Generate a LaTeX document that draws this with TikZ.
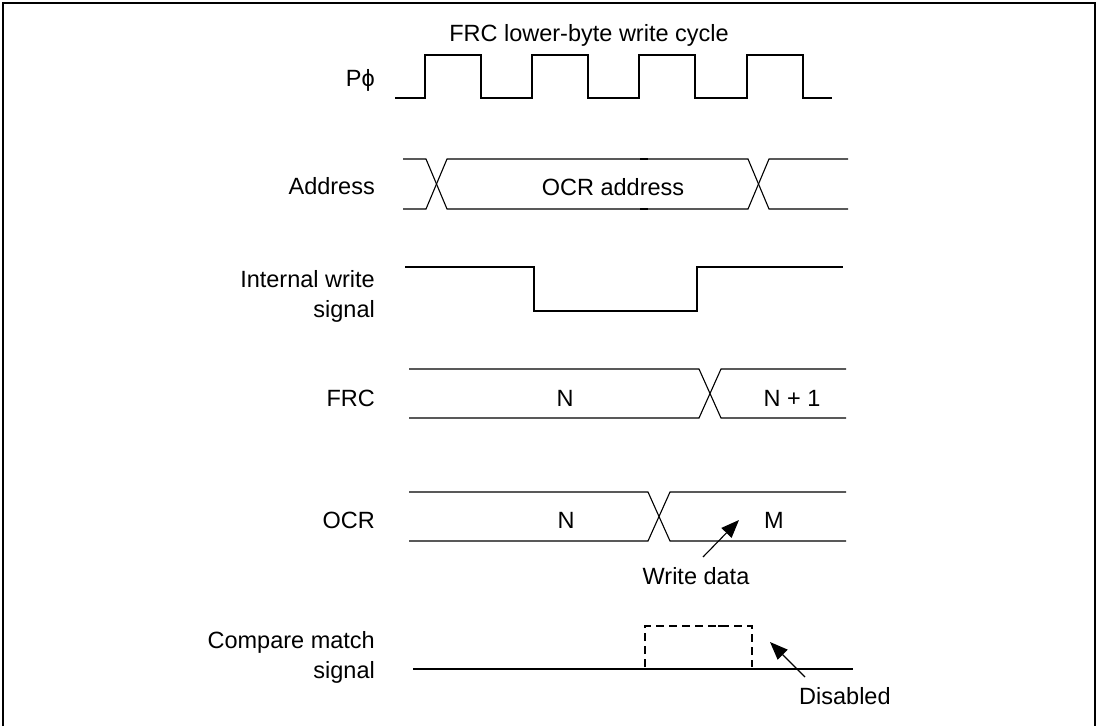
\documentclass[tikz,border=0pt]{standalone}
\usepackage{fontspec}
\setmainfont{Liberation Sans}
\usetikzlibrary{arrows.meta}
\begin{document}
\begin{tikzpicture}[x=1pt,y=-1pt,
  sig/.style={line width=1.1pt, line join=miter},
  frame/.style={line width=1.6pt},
  lbl/.style={font=\fontsize{23.5}{28}\selectfont, inner sep=0pt},
  arr/.style={line width=1.1pt, -{Triangle[length=18pt,width=14pt]}},
  tick/.style={line width=2.6pt},
  dsh/.style={line width=1.1pt, dash pattern=on 8pt off 5pt}]
\useasboundingbox (0,0) rectangle (1099,726);
% frame
\draw[frame] (3,726) -- (3,3) -- (1095,3) -- (1095,726);

% labels
\node[lbl, anchor=base east] (lphi) at (375,86.5) {Pϕ};
\node[lbl, anchor=base east] (laddr) at (375,194) {Address};
\node[lbl, anchor=base east] (liw1) at (375,287.5) {Internal write};
\node[lbl, anchor=base east] (liw2) at (375,317) {signal};
\node[lbl, anchor=base east] (lfrc) at (375,406) {FRC};
\node[lbl, anchor=base east] (locr) at (375,528.5) {OCR};
\node[lbl, anchor=base east] (lcm1) at (375,648.5) {Compare match};
\node[lbl, anchor=base east] (lcm2) at (375,678) {signal};

\node[lbl, anchor=base] (title) at (589,41) {FRC lower-byte write cycle};

% clock
\draw[sig] (395,98) -- (425,98) -- (425,55) -- (481,55) -- (481,98) -- (532,98)
  -- (532,55) -- (588,55) -- (588,98) -- (639,98) -- (639,55) -- (695,55)
  -- (695,98) -- (747,98) -- (747,55) -- (803,55) -- (803,98) -- (832,98);
\foreach \x in {452,560,667,775} \draw[tick] (\x-4,55) -- (\x+4,55);
\foreach \x in {507,614,722} \draw[tick] (\x-4,98) -- (\x+4,98);

% address
\draw[sig] (403,159) -- (426,159) -- (447,209) -- (748,209) -- (769,159) -- (848,159);
\draw[sig] (403,209) -- (426,209) -- (447,159) -- (748,159) -- (769,209) -- (848,209);
\draw[tick] (640,159) -- (648,159);
\draw[tick] (640,209) -- (648,209);
\node[lbl, anchor=base] (ocra) at (613,195) {OCR address};

% internal write
\draw[sig] (405,267) -- (534,267) -- (534,311) -- (697,311) -- (697,267) -- (843,267);
\draw[tick] (617,311) -- (625,311);

% FRC
\draw[sig] (409,369) -- (699,369) -- (721,418) -- (846,418);
\draw[sig] (409,418) -- (699,418) -- (721,369) -- (846,369);
\node[lbl, anchor=base] (frcn) at (565,406.5) {N};
\node[lbl, anchor=base] (frcn1) at (792,406.5) {N + 1};

% OCR
\draw[sig] (409,492) -- (648,492) -- (670,541) -- (846,541);
\draw[sig] (409,541) -- (648,541) -- (670,492) -- (846,492);
\node[lbl, anchor=base] (ocrn) at (566,528.5) {N};
\node[lbl, anchor=base] (ocrm) at (774,528.5) {M};
\node[lbl, anchor=base] (wd) at (696,584) {Write data};
\coordinate (wdfrom) at (703,557);
\coordinate (wdto) at (739,520);
\draw[arr] (wdfrom) -- (wdto);

% compare match
\draw[sig] (413,669) -- (853,669);
\draw[dsh] (645,667) -- (645,626) -- (752,626) -- (752,667);
\draw[tick] (718,626) -- (726,626);
\node[lbl, anchor=base west] (dis) at (799,704) {Disabled};
\coordinate (disfrom) at (805,677);
\coordinate (disto) at (770,642);
\draw[arr] (disfrom) -- (disto);
\end{tikzpicture}
\end{document}
